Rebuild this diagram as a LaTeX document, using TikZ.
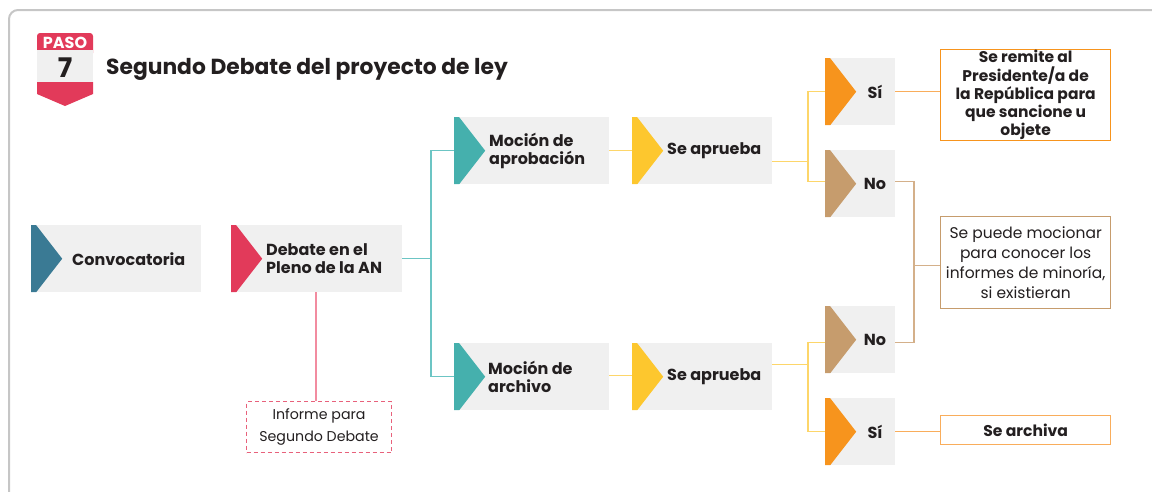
\documentclass[tikz,border=0pt]{standalone}
\usepackage{fontspec}
\setmainfont{Poppins}
\usetikzlibrary{calc}
\definecolor{boxgray}{HTML}{F0F0F0}
\definecolor{framegray}{HTML}{C6C6C6}
\definecolor{txt}{HTML}{231F20}
\definecolor{cblue}{HTML}{3A7A94}
\definecolor{cred}{HTML}{E23A5A}
\definecolor{cteal}{HTML}{45B0AD}
\definecolor{cyellow}{HTML}{FDC72E}
\definecolor{corange}{HTML}{F7941D}
\definecolor{ctan}{HTML}{C69C6D}
\definecolor{lteal}{HTML}{6CC5C4}
\definecolor{lyellow}{HTML}{FDD66A}
\definecolor{lorange}{HTML}{F9AD5B}
\definecolor{ltan}{HTML}{D4B08A}
\definecolor{lpink}{HTML}{F28CA0}
\tikzset{
  stepbox/.style={rectangle, fill=boxgray, inner sep=0pt, anchor=north west,
    minimum height=67pt,
    path picture={\fill[#1] (path picture bounding box.north west) -- ++(5,0)
      -- ($(path picture bounding box.west)+(31,0)$)
      -- ($(path picture bounding box.south west)+(5,0)$)
      -- (path picture bounding box.south west) -- cycle;}},
  steptext/.style={anchor=west, inner sep=0pt, align=left, text=txt,
    font=\fontsize{16}{18}\selectfont\bfseries},
  resbox/.style={rectangle, draw=#1, line width=1.3pt, fill=white, anchor=north west,
    inner sep=0pt, align=center, text=txt},
  conn/.style={line width=1.3pt, draw=#1},
}
\begin{document}
\begin{tikzpicture}[x=1pt,y=-1pt]
\useasboundingbox (0,0) rectangle (1152,491);
\clip (0,0) rectangle (1152,491);
\draw[framegray, line width=2pt, rounded corners=9pt] (9,10) rectangle (1180,520);

% badge
\fill[cred, rounded corners=3pt] (37,33) rectangle (93,56);
\fill[cred] (37,50) rectangle (93,56);
\fill[boxgray] (37,50) rectangle (93,82);
\fill[cred] (37,82) -- (93,82) -- (93,94) -- (65,106) -- (37,94) -- cycle;
\node[text=white, font=\fontsize{16}{16}\selectfont\bfseries, inner sep=0pt] (paso) at (65,42.5) {PASO};
\node[text=txt, font=\fontsize{27}{27}\selectfont\bfseries, inner sep=0pt] (num) at (65,67.5) {7};
\node[anchor=west, text=txt, font=\fontsize{21.8}{24}\selectfont\bfseries, inner sep=0pt] (title) at (106,69) {Segundo Debate del proyecto de ley};

% main boxes
\node[stepbox=cblue, minimum width=170pt] (conv) at (31,225) {};
\node[steptext] (tconv) at ([xshift=41]conv.west) {Convocatoria};
\node[stepbox=cred, minimum width=171pt] (deb) at (231,225) {};
\node[steptext] (tdeb) at ([xshift=35]deb.west) {Debate en el\\Pleno de la AN};

\node[stepbox=cteal, minimum width=155pt] (mapr) at (454,117) {};
\node[steptext] (tmapr) at ([xshift=35]mapr.west) {Moción de\\aprobación};
\node[stepbox=cteal, minimum width=155pt] (march) at (454,343) {};
\node[steptext] (tmarch) at ([xshift=34]march.west) {Moción de\\archivo};

\node[stepbox=cyellow, minimum width=140pt] (sa1) at (632,117) {};
\node[steptext] (tsa1) at ([xshift=35]sa1.west) {Se aprueba};
\node[stepbox=cyellow, minimum width=140pt] (sa2) at (632,343) {};
\node[steptext] (tsa2) at ([xshift=35]sa2.west) {Se aprueba};

\node[stepbox=corange, minimum width=70pt] (si1) at (825,58) {};
\node[steptext, anchor=center] (tsi1) at ([xshift=50]si1.west) {Sí};
\node[stepbox=ctan, minimum width=70pt] (no1) at (825,150) {};
\node[steptext, anchor=center] (tno1) at ([xshift=50]no1.west) {No};
\node[stepbox=ctan, minimum width=70pt] (no2) at (825,306) {};
\node[steptext, anchor=center] (tno2) at ([xshift=50]no2.west) {No};
\node[stepbox=corange, minimum width=70pt] (si2) at (825,398) {};
\node[steptext, anchor=center] (tsi2) at ([xshift=50]si2.west) {Sí};

% result boxes
\node[resbox=corange, minimum width=170pt, minimum height=91pt,
  font=\fontsize{15.5}{18.2}\selectfont\bfseries] (remite) at (940,49)
  {Se remite al\\Presidente/a de\\la República para\\que sancione u\\objete};
\node[resbox=ctan, minimum width=170pt, minimum height=92pt,
  font=\fontsize{15.5}{20}\selectfont] (mocion) at (940,216)
  {Se puede mocionar\\para conocer los\\informes de minoría,\\si existieran};
\node[resbox=lorange, minimum width=170pt, minimum height=29pt,
  font=\fontsize{15.6}{17}\selectfont\bfseries] (archiva) at (940,415) {Se archiva};
\node[rectangle, draw=cred!80, dashed, dash pattern=on 4pt off 3pt, line width=1.1pt,
  anchor=north west, minimum width=145pt, minimum height=51pt, inner sep=0pt,
  align=center, text=txt, font=\fontsize{14.2}{21.7}\selectfont] (informe) at (246,401)
  {Informe para\\Segundo Debate};

% connectors
\coordinate (tx) at (431,0);
\draw[conn=lpink] ([xshift=-3]deb.south -| informe.north) -- ([xshift=-3]informe.north);
\draw[conn=lteal] ([yshift=0.5]deb.east) -- ([yshift=0.5]deb.east -| tx)
  |- (mapr.west);
\draw[conn=lteal] ([yshift=0.5]deb.east -| tx) |- (march.west);
\draw[conn=lyellow] (mapr.east) -- (sa1.west);
\draw[conn=lyellow] ([yshift=1.5]march.east) -- ([yshift=1.5]sa2.west);

\coordinate (ya) at (808,0);
\draw[conn=lyellow] ([yshift=-10.5]sa1.east) -- ([yshift=-10.5]sa1.east -| ya) |- (si1.west);
\draw[conn=lyellow] ([yshift=-10.5]sa1.east -| ya) |- ([yshift=2.5]no1.west);
\draw[conn=lyellow] ([yshift=12.5]sa2.east) -- ([yshift=12.5]sa2.east -| ya) |- ([yshift=-2.5]no2.west);
\draw[conn=lyellow] ([yshift=12.5]sa2.east -| ya) |- (si2.west);

\draw[conn=lorange] (si1.east) -- (si1.east -| remite.west);
\draw[conn=lorange] (si2.east) -- (si2.east -| archiva.west);
\coordinate (yn) at (914,0);
\draw[conn=ltan] ([yshift=2.5]no1.east) -- ([yshift=2.5]no1.east -| yn) |- ([yshift=-2.5]no2.east);
\draw[conn=ltan] ([yshift=-3]mocion.west -| yn) -- ([yshift=-3]mocion.west);
\end{tikzpicture}
\end{document}
